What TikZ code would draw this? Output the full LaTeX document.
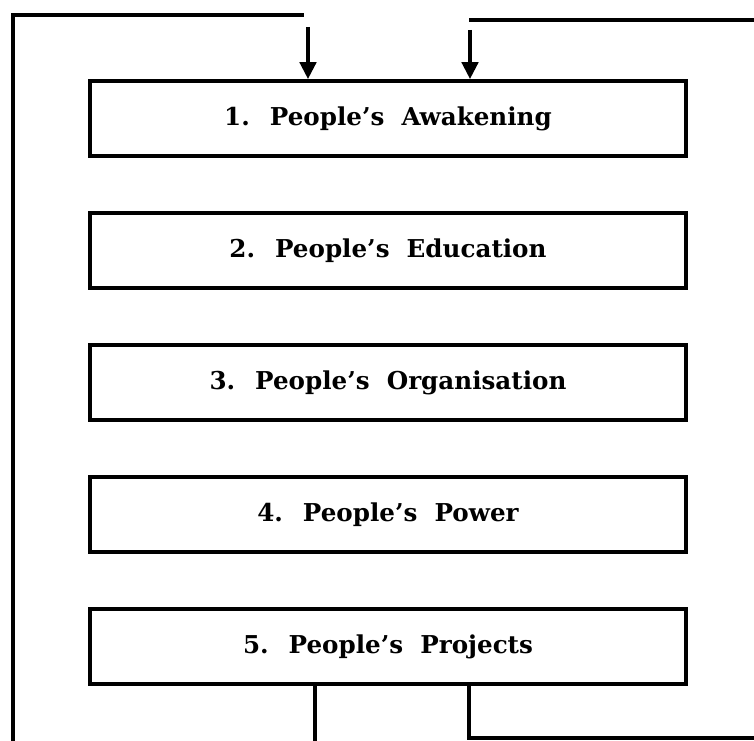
\documentclass[tikz,border=0pt]{standalone}
\usepackage{fontspec}
\setmainfont{DejaVu Serif}
\usepackage{tikz}
\usetikzlibrary{arrows.meta, positioning}

\tikzset{
  stage/.style={draw, line width=2pt, minimum width=11.92cm, minimum height=1.5cm,
    inner sep=0pt, font=\fontsize{14}{16}\selectfont\bfseries, align=center},
  feed/.style={line width=2pt},
  feedin/.style={line width=2.6pt, -{Triangle[length=0.34cm, width=0.32cm]}}
}

\begin{document}
\begin{tikzpicture}
      \useasboundingbox (0,0) rectangle (15.08,14.82);
      \clip (0,0) rectangle (15.08,14.82);
      % Stages
      \node[stage] (s1) at (7.76,12.45) {1.~ People's~ Awakening};
      \node[stage] (s2) at (7.76,9.81) {2.~ People's~ Education};
      \node[stage] (s3) at (7.76,7.17) {3.~ People's~ Organisation};
      \node[stage] (s4) at (7.76,4.53) {4.~ People's~ Power};
      \node[stage] (s5) at (7.76,1.89) {5.~ People's~ Projects};
      % Corners of the two return loops
      \coordinate (lb) at (6.30,-0.4);
      \coordinate (lc) at (0.26,14.52);
      \coordinate (la) at (6.08,14.52);
      \coordinate (lt) at (6.16,14.28);
      \coordinate (rb) at (9.38,0.06);
      \coordinate (rc) at (15.6,14.42);
      \coordinate (rt) at (9.40,14.22);
      % Left loop back to stage 1
      \draw[feed] (s5.south -| lb) -- (lb) -| (lc) -- (la);
      \draw[feedin] (lt) -- (s1.north -| lt);
      % Right loop back to stage 1
      \draw[feed] (s5.south -| rb) -- (rb) -| (rc) -- (rc -| rb);
      \draw[feedin] (rt) -- (s1.north -| rt);
    \end{tikzpicture}
\end{document}
